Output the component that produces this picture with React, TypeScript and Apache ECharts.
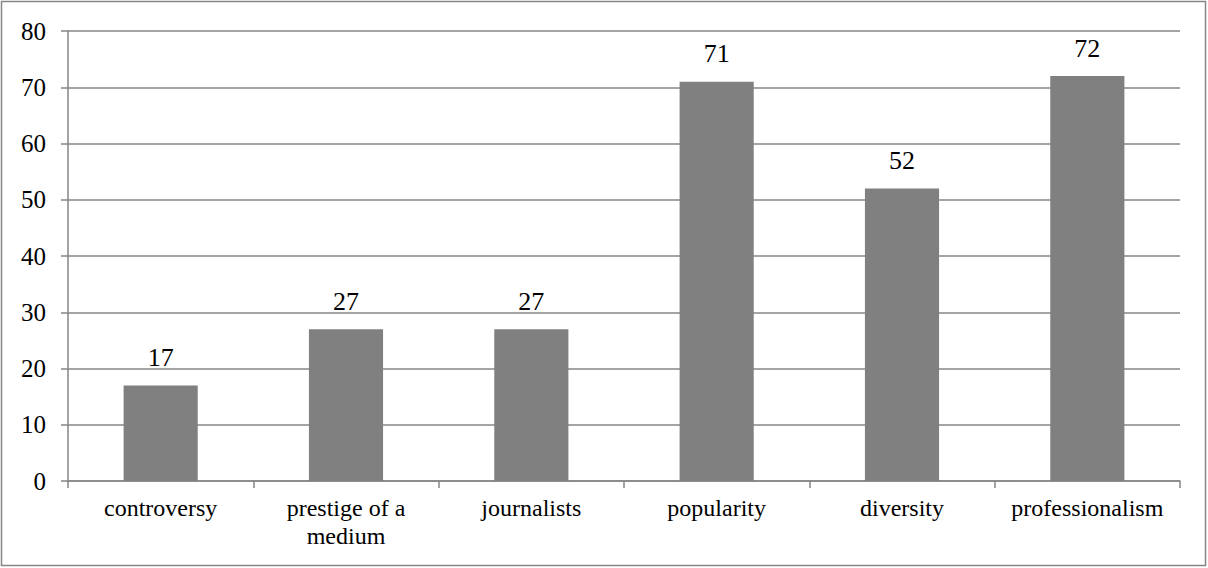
import React, { useEffect, useRef } from "react";
import * as echarts from "echarts";

// Reasons rated by respondents
const categories = [
  "controversy",
  "prestige of a\nmedium",
  "journalists",
  "popularity",
  "diversity",
  "professionalism",
];
const counts = [17, 27, 27, 71, 52, 72];
const yTicks = { min: 0, max: 80, interval: 10 };

const FONT = '"Liberation Serif", "Times New Roman", serif';
const GREY = "#868686";

export default function App() {
  const ref = useRef<HTMLDivElement>(null);

  useEffect(() => {
    document.body.style.margin = "0";
    const chart = echarts.init(ref.current!, undefined, { renderer: "svg" });
    chart.setOption({
      animation: false,
      backgroundColor: "#ffffff",
      grid: { left: 68, right: 28, top: 31, bottom: 87, containLabel: false },
      graphic: [
        {
          type: "rect",
          shape: { x: 1.5, y: 1.5, width: 1204, height: 564 },
          style: { fill: "none", stroke: GREY, lineWidth: 1.5 },
          silent: true,
        },
      ],
      xAxis: {
        type: "category",
        data: categories,
        axisLine: { lineStyle: { color: GREY, width: 1.5 } },
        axisTick: { show: true, length: 7, alignWithLabel: false, lineStyle: { color: GREY, width: 1.5 } },
        axisLabel: {
          color: "#000",
          fontFamily: FONT,
          fontSize: 24,
          lineHeight: 28,
          margin: 13,
          interval: 0,
        },
      },
      yAxis: {
        type: "value",
        min: yTicks.min,
        max: yTicks.max,
        interval: yTicks.interval,
        axisLine: { show: true, lineStyle: { color: GREY, width: 1.5 } },
        axisTick: { show: true, length: 7, lineStyle: { color: GREY, width: 1.5 } },
        splitLine: { show: true, lineStyle: { color: GREY, width: 1.5 } },
        axisLabel: {
          color: "#000",
          fontFamily: FONT,
          fontSize: 25,
          margin: 22,
        },
      },
      series: [
        {
          type: "bar",
          data: counts,
          barWidth: "40%",
          itemStyle: { color: "#808080" },
          label: {
            show: true,
            position: "top",
            distance: 15,
            color: "#000",
            fontFamily: FONT,
            fontSize: 26,
          },
        },
      ],
    });
    return () => chart.dispose();
  }, []);

  return <div ref={ref} style={{ width: 1208, height: 568 }} />;
}
